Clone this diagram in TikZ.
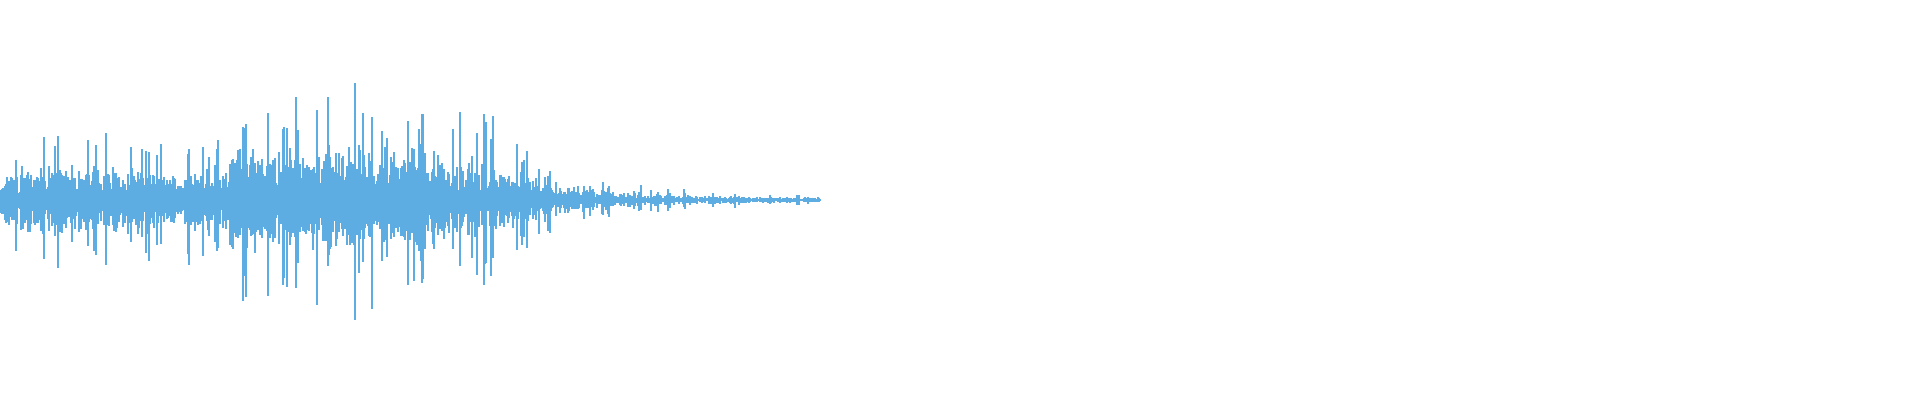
\documentclass[tikz,border=0pt]{standalone}
\definecolor{wave}{RGB}{93,173,226}
\tikzset{
    sample/.style={wave, line width=0.3pt},
}
\begin{document}
\begin{tikzpicture}[x=0.01cm,y=0.01cm]
    \useasboundingbox (0,0) rectangle (1920,400);
    \pgfmathsetseed{4242}
    % envelope of the recording, sample by sample
    \foreach \X in {0,...,820} {
        \pgfmathsetmacro{\Tail}{32*exp(-(max(\X,500)-500)/75)+2.5}
        \pgfmathsetmacro{\Env}{\X<230 ? 34 : (\X<440 ? 55 : (\X<500 ? 42 : \Tail))}
        \pgfmathsetmacro{\Boost}{rnd>0.9 ? 1.5+0.7*rnd : 0.25+0.8*rnd}
        \pgfmathsetmacro{\Up}{\Env*\Boost*(0.6+0.4*rnd)}
        \pgfmathsetmacro{\Down}{\Env*\Boost*(0.6+0.4*rnd)}
        \draw[sample] (\X,200+\Up) -- (\X,200-\Down);
    }
    \draw[sample] (0,200) -- (820,200);
\end{tikzpicture}
\end{document}
